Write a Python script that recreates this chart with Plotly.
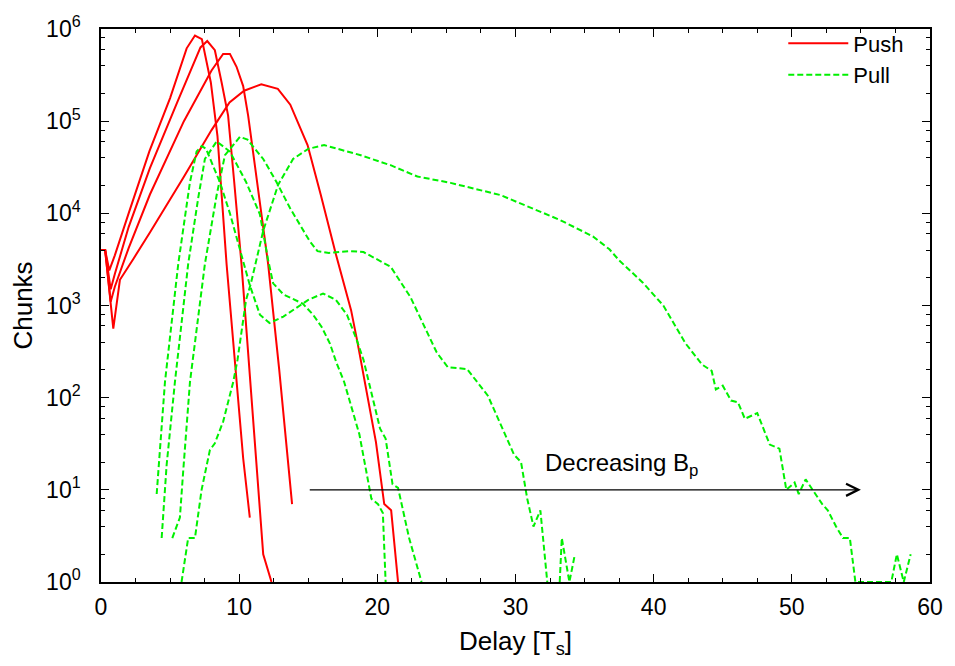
import math
import plotly.graph_objects as go

# ---------------- data ----------------
# Push curves (red, solid), delay in Ts, number of chunks
push1_x = [0, 0.3, 0.6, 1.0, 2.0, 3.5, 5.0, 6.2, 6.8, 7.3, 7.95, 8.43, 9.09, 10.29, 10.77]
push1_y = [4000, 4000, 2400, 3500, 10000, 47000, 178000, 617000, 850000, 776000, 263000, 69000, 2800, 22, 5]

push2_x = [0, 0.3, 0.7, 1.0, 2.0, 3.54, 5.5, 7.2, 7.69, 8.24, 8.73, 9.2, 9.64, 10.17, 11.74, 12.34]
push2_y = [4000, 4000, 1500, 2200, 7100, 31000, 158000, 631000, 741000, 589000, 263000, 115000, 22000, 2800, 2, 1]

push3_x = [0, 0.3, 0.7, 1.0, 2.0, 3.54, 6.0, 8.0, 8.84, 9.33, 9.81, 10.29, 10.65, 11.3, 12.1, 12.9, 13.83]
push3_y = [4000, 4000, 1100, 1600, 4200, 16000, 100000, 355000, 537000, 537000, 389000, 240000, 115000, 22000, 2800, 200, 7]

push4_x = [0, 0.3, 0.89, 1.37, 2.34, 3.54, 6.0, 8.0, 9.3, 10.36, 11.6, 12.8, 13.7, 14.95, 15.9, 17.0,
           18.1, 18.56, 19.9, 20.3, 20.5, 21.0, 21.5]
push4_y = [4000, 4000, 560, 1900, 3200, 6200, 25000, 80000, 160000, 214000, 251000, 224000, 151000, 55000, 16000, 3600,
           890, 400, 33, 11, 7, 6, 1]

# Pull curves (green, dashed)
pull1_x = [4.03, 4.27, 4.63, 5.59, 6.44, 6.92, 7.28, 7.6, 8.6, 9.33, 10.17, 10.77, 11.5, 12.2, 13.2, 14.15,
           15.0, 16.07, 17.0, 17.8, 18.5, 19.0, 20.2, 20.6, 21.1, 21.5, 22.3, 23.2]
pull1_y = [9, 28, 148, 2820, 21900, 46800, 53700, 50100, 21900, 10000, 3630, 1660, 794, 646, 759, 955,
           1150, 1350, 1150, 794, 427, 257, 46, 36, 11.5, 10.5, 3, 1]

pull2_x = [4.39, 4.75, 5.35, 6.31, 7.04, 7.52, 8.37, 9.33, 10.5, 11.5, 12.1, 12.46, 13.2, 14.15, 14.6,
           15.35, 15.96, 16.56, 17.04, 17.6, 18.7, 19.57, 20.05, 20.4, 20.6]
pull2_y = [3, 18.6, 148, 2820, 14800, 38900, 60300, 46800, 21900, 9770, 3090, 1740, 1320, 1120, 1047,
           794, 589, 389, 240, 148, 40, 8, 7, 5.6, 1]

pull3_x = [5.16, 5.71, 5.95, 6.44, 7.52, 8.37, 8.97, 10.05, 10.6, 11.74, 12.7, 13.67, 15.1, 15.67, 16.5,
           18.07, 19.0, 20.97, 22.4, 23.6, 24.3, 25.1, 26.5, 28.0, 29.9, 30.4, 30.85, 31.3, 31.8, 32.3,
           32.8, 33.2, 33.35, 33.9, 34.3]
pull3_y = [3, 5, 16, 148, 2820, 15800, 42700, 67600, 63100, 38900, 21900, 11500, 5000, 3890, 3720,
           3890, 3800, 2630, 1230, 500, 309, 214, 204, 105, 24, 20, 8, 4, 6, 1,
           None, 1, 3, 1, 2]

pull4_x = [5.83, 6.31, 6.8, 7.28, 7.88, 8.24, 8.84, 9.57, 9.88, 10.5, 10.85, 11.26, 11.74, 12.82, 13.9,
           15.0, 16.15, 18.8, 21.0, 22.9, 25.3, 28.9, 33.2, 35.6, 36.8, 37.5, 39.2, 40.7, 42.3, 43.5,
           44.2, 44.5, 45.0, 45.6, 46.1, 46.6, 47.5, 48.4, 49.1, 49.6, 50.2, 50.5, 51.0, 51.5, 52.2,
           52.6, 53.2, 53.7, 54.2, 54.6, 55.5, 56.5, 57.2, 57.6, 58.1, 58.6]
pull4_y = [1, 3, 3, 10, 27, 32, 55, 148, 257, 1150, 1740, 3090, 6460, 20400, 38900,
           50100, 55000, 42700, 33100, 25100, 21400, 15800, 8500, 5620, 4070, 3090, 1780, 1000, 389, 229,
           195, 123, 135, 93, 89, 59, 68, 31, 28, 10, 12, 9, 13, 10, 7,
           6, 4, 3, 3, 1, 1, 1, 1, 2, 1, 2]

push_series = [(push1_x, push1_y), (push2_x, push2_y), (push3_x, push3_y), (push4_x, push4_y)]
pull_series = [(pull1_x, pull1_y), (pull2_x, pull2_y), (pull3_x, pull3_y), (pull4_x, pull4_y)]

x_ticks = [0, 10, 20, 30, 40, 50, 60]
y_tickvals = [1, 10, 100, 1000, 10000, 100000, 1000000]
y_ticktext = ["10<sup>%d</sup>" % k for k in range(7)]
y_minor = [m * 10 ** k for k in range(6) for m in (2, 4, 6, 8)]

annot_text = "Decreasing B<sub>p</sub>"
arrow_from = (15, 10)
arrow_to = (55, 10)
annot_pos = (32.0, 19)

FONT = "Liberation Sans, Arial, Helvetica, sans-serif"
RED = "#ff0000"
GREEN = "#00f000"

fig = go.Figure()
for i, (xs, ys) in enumerate(push_series):
    fig.add_trace(go.Scatter(x=xs, y=ys, mode="lines", name="Push", legendgroup="push",
                             showlegend=(i == 0),
                             line=dict(color=RED, width=2)))
for i, (xs, ys) in enumerate(pull_series):
    fig.add_trace(go.Scatter(x=xs, y=ys, mode="lines", name="Pull", legendgroup="pull",
                             showlegend=(i == 0), connectgaps=False,
                             line=dict(color=GREEN, width=2, dash="6px,3px")))

axis_common = dict(showline=True, linecolor="black", linewidth=1.5, mirror="ticks",
                   ticks="inside", ticklen=8, tickwidth=1, tickcolor="black",
                   showgrid=False, zeroline=False,
                   tickfont=dict(family=FONT, size=23, color="black"))

fig.update_xaxes(range=[0, 60], tickmode="array", tickvals=x_ticks,
                 minor=dict(dtick=2.5, ticks="inside", ticklen=4, tickcolor="black", tickwidth=1),
                 ticklabelstandoff=4,
                 title=dict(text="Delay [T<sub>s</sub>]", font=dict(family=FONT, size=26, color="black"),
                            standoff=12),
                 **axis_common)
fig.update_yaxes(type="log", range=[0, 6], tickmode="array", tickvals=y_tickvals, ticktext=y_ticktext,
                 minor=dict(tickmode="array", tickvals=y_minor, ticks="inside", ticklen=4,
                            tickcolor="black", tickwidth=1),
                 ticklabelstandoff=14,
                 title=dict(text="Chunks", font=dict(family=FONT, size=26, color="black"), standoff=6),
                 **axis_common)

fig.add_annotation(x=arrow_to[0], y=math.log10(arrow_to[1]), ax=arrow_from[0], ay=math.log10(arrow_from[1]),
                   xref="x", yref="y", axref="x", ayref="y", text="", showarrow=True,
                   arrowhead=5, arrowsize=2.0, arrowwidth=1.2, arrowcolor="black")
fig.add_annotation(x=annot_pos[0], y=math.log10(annot_pos[1]), xref="x", yref="y", text=annot_text,
                   showarrow=False, xanchor="left", yanchor="middle",
                   font=dict(family=FONT, size=24, color="black"))

fig.update_layout(
    width=955, height=666,
    margin=dict(l=101, r=23, t=22, b=84),
    paper_bgcolor="white", plot_bgcolor="white",
    font=dict(family=FONT, size=22, color="black"),
    legend=dict(x=0.975, y=1.012, xanchor="right", yanchor="top", bgcolor="rgba(0,0,0,0)",
                font=dict(family=FONT, size=22, color="black"), tracegroupgap=0, itemwidth=60),
)

fig.write_html("out.html", config={"displayModeBar": False},
               post_script="document.body.style.margin='0';")
